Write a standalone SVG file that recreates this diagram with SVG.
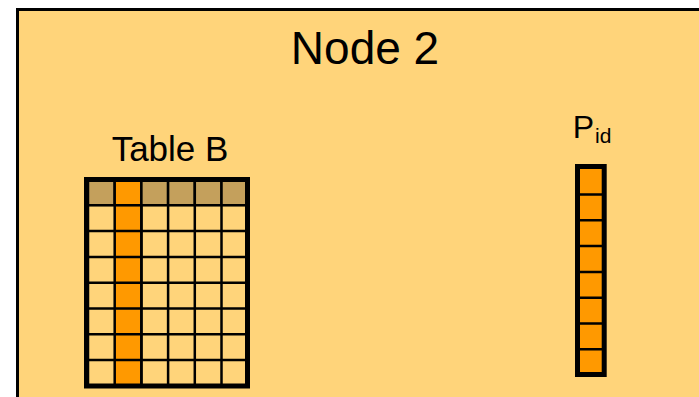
<svg xmlns="http://www.w3.org/2000/svg" width="699" height="397" viewBox="0 0 699 397">
<style>
.txt{font-family:"Liberation Sans",Arial,sans-serif;fill:#000}
.cell{fill:#FFD47A;stroke:#000;stroke-width:2.5}
.hdr{fill:#C4A05C;stroke:#000;stroke-width:2.5}
.key{fill:#FF9900;stroke:#000;stroke-width:2.5}
.frame{fill:none;stroke:#000;stroke-width:5}
</style>
<rect width="699" height="397" fill="#fff"/>
<g id="node2">
<rect x="17.5" y="9.5" width="700" height="400" fill="#FFD47A" stroke="#000" stroke-width="3"/>
<text class="txt" x="365" y="64" font-size="46" text-anchor="middle">Node 2</text>
</g>
<g id="tableB">
<text class="txt" x="170" y="160.7" font-size="35" text-anchor="middle">Table B</text>
<g id="tableB-header">
<rect class="hdr" x="88" y="179.5" width="26.7" height="25.8"/>
<rect class="key" x="114.7" y="179.5" width="26.7" height="25.8"/>
<rect class="hdr" x="141.4" y="179.5" width="26.7" height="25.8"/>
<rect class="hdr" x="168.1" y="179.5" width="26.7" height="25.8"/>
<rect class="hdr" x="194.8" y="179.5" width="26.7" height="25.8"/>
<rect class="hdr" x="221.5" y="179.5" width="26.5" height="25.8"/>
</g>
<g id="tableB-body">
<rect class="cell" x="88" y="205.3" width="160" height="180.6"/>
<rect class="key" x="114.7" y="205.3" width="26.7" height="180.6"/>
<path d="M141.4 205.3V385.9M168.1 205.3V385.9M194.8 205.3V385.9M221.5 205.3V385.9M88 231.1H248M88 256.9H248M88 282.7H248M88 308.5H248M88 334.3H248M88 360.1H248" stroke="#000" stroke-width="2.5" fill="none"/>
</g>
<rect class="frame" x="86.5" y="179.5" width="161" height="206.5"/>
</g>
<g id="pid">
<text class="txt" x="572.7" y="138.3" font-size="32">P<tspan font-size="21" dx="1" dy="5">id</tspan></text>
<rect class="key" x="577.5" y="166.5" width="26.7" height="208"/>
<path d="M577.5 194.5H604.2M577.5 220.3H604.2M577.5 246.1H604.2M577.5 271.9H604.2M577.5 297.7H604.2M577.5 323.5H604.2M577.5 349.3H604.2" stroke="#000" stroke-width="2.5" fill="none"/>
<rect class="frame" x="577.5" y="166.5" width="26.7" height="208"/>
</g>
<g id="connectors"></g>
</svg>
